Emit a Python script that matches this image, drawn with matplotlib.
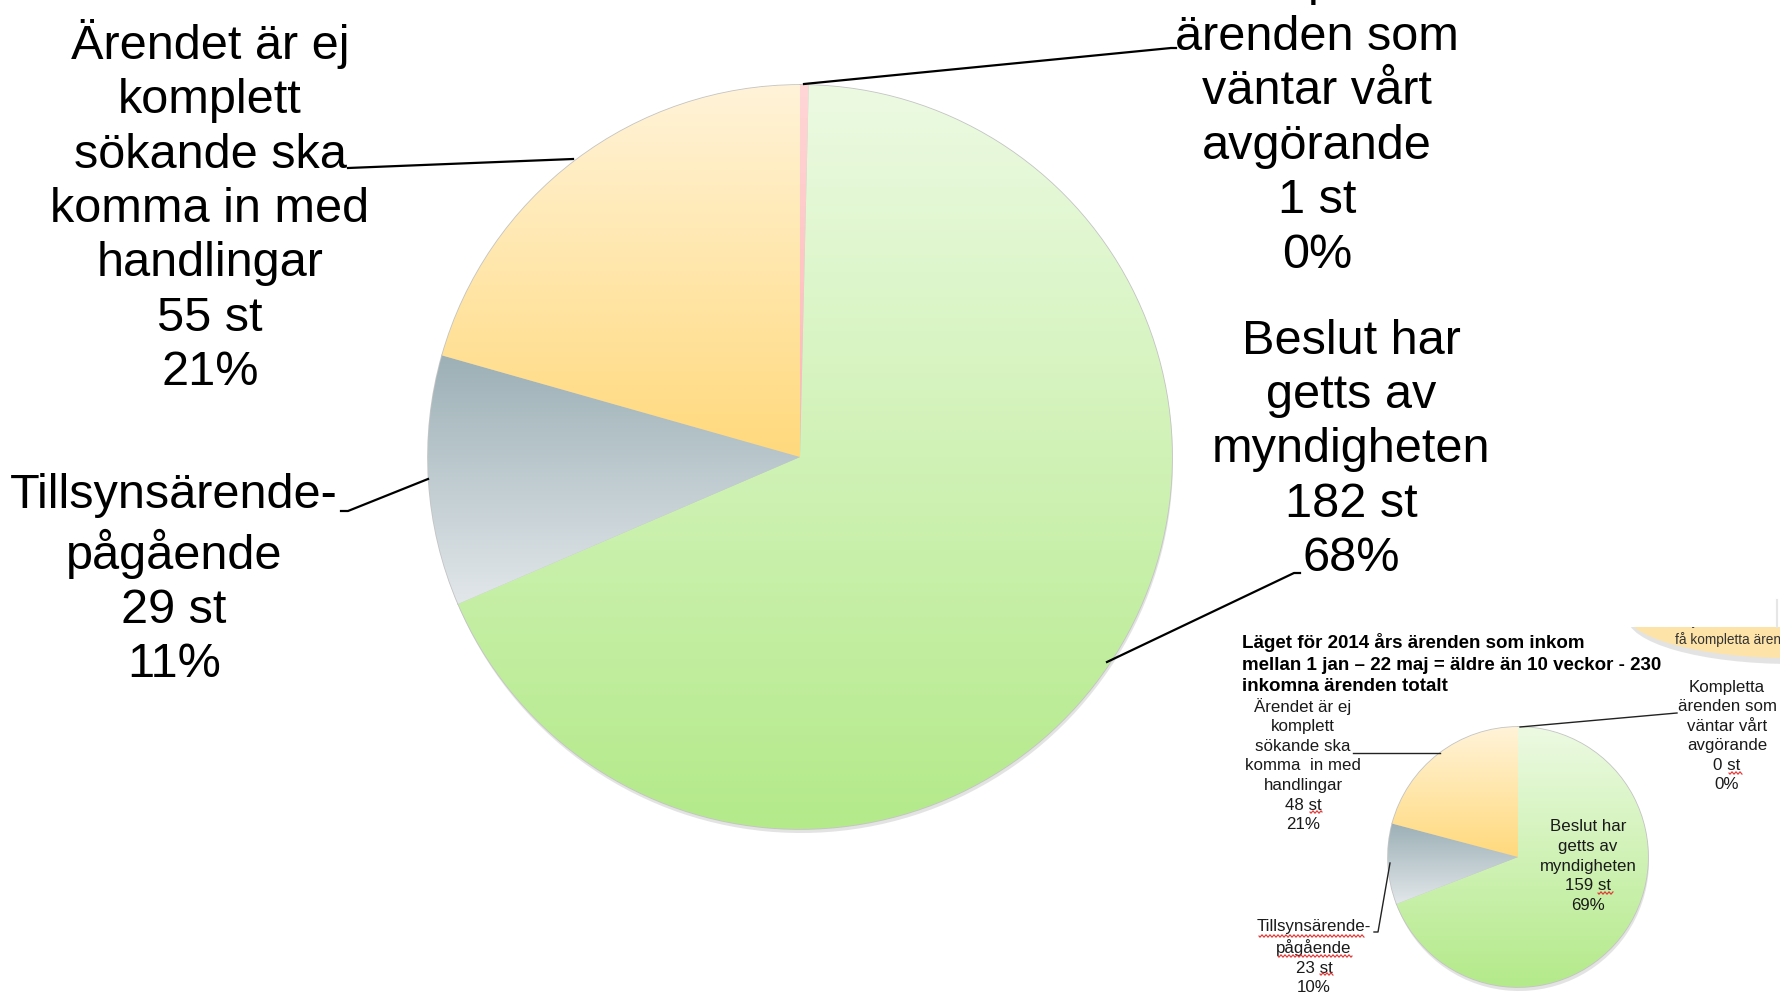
import numpy as np
import matplotlib
matplotlib.use('Agg')
import matplotlib.pyplot as plt
from matplotlib.colors import LinearSegmentedColormap
from matplotlib.patches import Ellipse, Rectangle

plt.rcParams['font.family'] = ['Liberation Sans', 'DejaVu Sans']

# slice order: clockwise from 12 o'clock
cats_main = ['Kompletta\närenden som\nväntar vårt\navgörande',
             'Beslut har\ngetts av\nmyndigheten',
             'Tillsynsärende-\npågående',
             'Ärendet är ej\nkomplett\nsökande ska\nkomma in med\nhandlingar']
vals_main = [1, 182, 29, 55]

cats_small = ['Kompletta\närenden som\nväntar vårt\navgörande',
              'Beslut har\ngetts av\nmyndigheten',
              'Tillsynsärende-\npågående',
              'Ärendet är ej\nkomplett\nsökande ska\nkomma  in med\nhandlingar']
vals_small = [0, 159, 23, 48]
small_title = 'Läget för 2014 års ärenden som inkom\nmellan 1 jan – 22 maj = äldre än 10 veckor - 230\ninkomna ärenden totalt'

# gradient colours per slice (top, bottom)
tops = ['#ffd6d6', '#ecfae2', '#9cb0b6', '#fff3d8']
bots = ['#ffb4b4', '#b4ea8a', '#e2e7ea', '#ffd97c']


def make_label(cat, v, tot):
    return '%s\n%d st\n%d%%' % (cat, v, round(100.0 * v / tot))


def gradient_pie(ax, vals, center, r, z=2):
    # soft shadow first
    ax.pie(vals, colors=['#b0b0b0'] * len(vals), startangle=-90, counterclock=True,
           center=(center[0] + 1, center[1] + 4), radius=r,
           wedgeprops=dict(linewidth=0, alpha=0.35, zorder=z - 1))
    wedges, _ = ax.pie(vals, colors=bots, startangle=-90, counterclock=True,
                       center=center, radius=r,
                       wedgeprops=dict(edgecolor='#c4c4c4', linewidth=1.2, zorder=z))
    grad = np.linspace(0, 1, 256).reshape(-1, 1)
    for w, c0, c1 in zip(wedges, tops, bots):
        if w.theta2 - w.theta1 <= 0:
            continue
        bb = w.get_path().get_extents()
        cmap = LinearSegmentedColormap.from_list('g', [c0, c1])
        im = ax.imshow(grad, cmap=cmap, aspect='auto', origin='upper',
                       extent=(bb.x0, bb.x1, bb.y1, bb.y0),
                       interpolation='bilinear', zorder=z + 0.5)
        im.set_clip_path(w)
    return wedges


def wavy(ax, x0, x1, y):
    # spell-check squiggle from the pasted screenshot
    xs = np.linspace(x0, x1, int((x1 - x0) * 3) + 2)
    ax.plot(xs, y + 1.1 * np.sin((xs - x0) * np.pi / 2.0), color='#e03030', lw=0.8, zorder=9)


fig = plt.figure(figsize=(17.8, 9.94), dpi=100)
ax = fig.add_axes([0, 0, 1, 1])

# ---- main pie
tot = sum(vals_main)
gradient_pie(ax, vals_main, (800, 457), 372)

big = 35
ls_big = 1.27
ax.text(1317, 119, make_label(cats_main[0], vals_main[0], tot), ha='center', va='center',
        fontsize=big, linespacing=ls_big)
ax.text(1351, 450, make_label(cats_main[1], vals_main[1], tot), ha='center', va='center',
        fontsize=big, linespacing=ls_big)
ax.text(174, 580, make_label(cats_main[2], vals_main[2], tot), ha='center', va='center',
        fontsize=big, linespacing=ls_big)
ax.text(210, 207, make_label(cats_main[3], vals_main[3], tot), ha='center', va='center',
        fontsize=big, linespacing=ls_big)

# leader lines
ax.plot([804, 1171, 1176], [84, 48, 48], color='black', lw=1.6, zorder=5)
ax.plot([1107, 1294, 1300], [662, 573, 573], color='black', lw=1.6, zorder=5)
ax.plot([341, 348, 428], [511, 511, 479], color='black', lw=1.6, zorder=5)
ax.plot([348, 573], [168, 159], color='black', lw=1.6, zorder=5)

# ---- small pasted chart
tot2 = sum(vals_small)
gradient_pie(ax, vals_small, (1518, 857), 130, z=6)

ax.text(1242, 664, small_title, ha='left', va='center', fontsize=13.5,
        fontweight='bold', linespacing=1.37, zorder=9)
sm = 12.2
ls_sm = 1.38
ax.text(1727, 736, make_label(cats_small[0], vals_small[0], tot2), ha='center', va='center',
        fontsize=sm, linespacing=ls_sm, color='#1a1a1a', zorder=9)
ax.text(1588, 866, make_label(cats_small[1], vals_small[1], tot2), ha='center', va='center',
        fontsize=sm, linespacing=ls_sm, color='#1a1a1a', zorder=9)
ax.text(1314, 957, make_label(cats_small[2], vals_small[2], tot2), ha='center', va='center',
        fontsize=sm, linespacing=ls_sm, color='#1a1a1a', zorder=9)
ax.text(1303, 765, make_label(cats_small[3], vals_small[3], tot2), ha='center', va='center',
        fontsize=sm, linespacing=ls_sm, color='#1a1a1a', zorder=9)

ax.plot([1677, 1520], [713, 727], color='#222222', lw=1, zorder=9)
ax.plot([1353, 1440], [753, 753], color='#222222', lw=1, zorder=9)
ax.plot([1374, 1378, 1390], [932, 932, 863], color='#222222', lw=1, zorder=9)

wavy(ax, 1310, 1322, 812)
wavy(ax, 1729, 1742, 773)
wavy(ax, 1598, 1613, 893)
wavy(ax, 1320, 1333, 974)
wavy(ax, 1259, 1364, 936)
wavy(ax, 1278, 1352, 956)

# cut-off callout bubble at the top right of the small chart
ax.add_patch(Ellipse((1792, 617), 330, 94, facecolor='#c8c8c8', edgecolor='none',
                     alpha=0.5, zorder=6))
ax.add_patch(Ellipse((1790, 612), 330, 92, facecolor='#fde3a8', edgecolor='none', zorder=7))
ax.text(1678, 621, 'följa ärendet med', fontsize=9.8, color='#333333', ha='left',
        va='center', zorder=8)
ax.text(1675, 640, 'få kompletta ärenden', fontsize=9.8, color='#333333', ha='left',
        va='center', zorder=8)
# the screenshot is cropped just above the bubble
ax.add_patch(Rectangle((1560, 540), 230, 87, facecolor='white', edgecolor='none', zorder=8.5))
ax.plot([1777, 1777], [600, 627], color='#e6e6e6', lw=1.5, zorder=8.6)

ax.set_xlim(0, 1780)
ax.set_ylim(994, 0)
ax.set_aspect('auto')
ax.axis('off')

fig.savefig('out.png', dpi=100, facecolor='white')
